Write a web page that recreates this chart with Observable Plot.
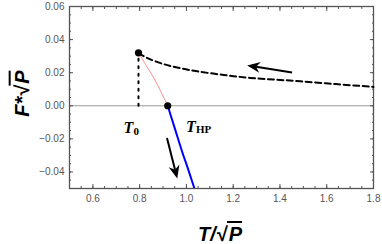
<!DOCTYPE html>
<html>
<head>
<meta charset="utf-8">
<script src="https://cdn.jsdelivr.net/npm/d3@7"></script>
<script src="https://cdn.jsdelivr.net/npm/@observablehq/plot@0.6"></script>
<style>
  body { margin: 0; background: #fff; }
  #wrap { position: relative; width: 382px; height: 244px; }
  .lab { position: absolute; font-family: "Liberation Sans", Arial, sans-serif; font-weight: bold; font-style: italic; font-size: 20px; color: #000; white-space: nowrap; line-height: 1; }
  .ov { border-top: 2px solid #000; padding-left: 2px; display: inline-block; line-height: 1; padding-top: 1px; }
</style>
</head>
<body>
<div id="wrap"></div>
<script>
// Tick values
const xTicks = [0.6, 0.8, 1.0, 1.2, 1.4, 1.6, 1.8];
const yTicks = [-0.04, -0.02, 0.0, 0.02, 0.04, 0.06];
const xMinor = d3.range(0.5, 1.8001, 0.05).map(v => +v.toFixed(3));
const yMinor = d3.range(-0.05, 0.06001, 0.005).map(v => +v.toFixed(4));

// Dashed branch (upper, black dashed)
const dashX = [0.795, 0.834, 0.902, 0.97, 1.047, 1.16, 1.274, 1.38, 1.488, 1.64, 1.8];
const dashY = [0.0318, 0.0288, 0.0252, 0.0228, 0.0208, 0.0186, 0.0168, 0.0158, 0.0148, 0.0131, 0.0114];
// Pink branch
const pinkX = [0.795, 0.825, 0.86, 0.889, 0.92];
const pinkY = [0.032, 0.025, 0.017, 0.009, 0.0];
// Blue branch
const blueX = [0.92, 0.95, 0.98, 1.01, 1.04];
const blueY = [0.0, -0.0135, -0.027, -0.0395, -0.0525];
// Dotted vertical at T0
const dotX = [0.795, 0.795];
const dotY = [0.0, 0.032];
// Special points
const ptX = [0.795, 0.92];
const ptY = [0.032, 0.0];
// Arrows (tail -> tip)
const arrX1 = [1.454, 0.919];
const arrY1 = [0.0198, -0.0198];
const arrX2 = [1.262, 0.963];
const arrY2 = [0.0241, -0.0442];
// Labels
const labX = [0.731, 0.998];
const labY = [-0.0135, -0.0125];
const labSub = ["0", "HP"];

const toXY = (xs, ys) => xs.map((x, i) => ({x, y: ys[i]}));
const dash = toXY(dashX, dashY), pink = toXY(pinkX, pinkY), blue = toXY(blueX, blueY);
const dotted = toXY(dotX, dotY), pts = toXY(ptX, ptY);
const arrows = arrX1.map((x, i) => ({x1: x, y1: arrY1[i], x2: arrX2[i], y2: arrY2[i]}));
const labs = labX.map((x, i) => ({x, y: labY[i], sub: labSub[i]}));

const tickColor = "#555";
const fmtY = d => (d < 0 ? "\u2212" : "") + Math.abs(d).toFixed(2);

// Filled-head arrows drawn through Plot's scales
function filledArrows(data) {
  return (index, scales) => {
    const g = d3.create("svg:g");
    for (const a of data) {
      const x1 = scales.x(a.x1), y1 = scales.y(a.y1), x2 = scales.x(a.x2), y2 = scales.y(a.y2);
      const ang = Math.atan2(y2 - y1, x2 - x1);
      const L = 13, W = 5.5, N = 9;
      const ux = Math.cos(ang), uy = Math.sin(ang), px = -uy, py = ux;
      const bx = x2 - ux * L, by = y2 - uy * L;
      const nx = x2 - ux * N, ny = y2 - uy * N;
      g.append("line").attr("x1", x1).attr("y1", y1).attr("x2", nx).attr("y2", ny)
        .attr("stroke", "#000").attr("stroke-width", 2);
      g.append("path")
        .attr("d", `M${x2},${y2}L${bx + px * W},${by + py * W}L${nx},${ny}L${bx - px * W},${by - py * W}Z`)
        .attr("fill", "#000");
    }
    return g.node();
  };
}

const chart = Plot.plot({
  width: 382, height: 244,
  marginLeft: 69, marginRight: 9, marginTop: 6, marginBottom: 56,
  x: {domain: [0.5, 1.8]},
  y: {domain: [-0.05, 0.06]},
  style: {fontFamily: "Liberation Sans, Arial, sans-serif", fontSize: "10px", background: "#fff"},
  marks: [
    Plot.ruleY([0], {stroke: "#999", strokeWidth: 1}),
    // ticks: minor
    Plot.axisX(xMinor, {anchor: "bottom", tickSize: -2, text: null, stroke: tickColor, label: null}),
    Plot.axisX(xMinor, {anchor: "top", tickSize: -2, text: null, stroke: tickColor, label: null}),
    Plot.axisY(yMinor, {anchor: "left", tickSize: -2, text: null, stroke: tickColor, label: null}),
    Plot.axisY(yMinor, {anchor: "right", tickSize: -2, text: null, stroke: tickColor, label: null}),
    // ticks: major
    Plot.axisX(xTicks, {anchor: "bottom", tickSize: -4, text: null, stroke: tickColor, label: null}),
    Plot.axisX(xTicks, {anchor: "top", tickSize: -4, text: null, stroke: tickColor, label: null}),
    Plot.axisY(yTicks, {anchor: "left", tickSize: -4, text: null, stroke: tickColor, label: null}),
    Plot.axisY(yTicks, {anchor: "right", tickSize: -4, text: null, stroke: tickColor, label: null}),
    // tick labels
    Plot.axisX(xTicks, {anchor: "bottom", tickSize: 0, tickPadding: 6, tickFormat: d => d.toFixed(1), fill: tickColor, label: null, fontSize: 10}),
    Plot.axisY(yTicks, {anchor: "left", tickSize: 0, tickPadding: 5, tickFormat: fmtY, fill: tickColor, label: null, fontSize: 10}),
    Plot.frame({stroke: "#555", strokeWidth: 1.3}),
    Plot.line(dotted, {x: "x", y: "y", stroke: "#000", strokeWidth: 2, strokeDasharray: "2,5.5"}),
    Plot.line(pink, {x: "x", y: "y", stroke: "#ff8c8c", strokeWidth: 1, curve: "catmull-rom"}),
    Plot.line(dash, {x: "x", y: "y", stroke: "#000", strokeWidth: 2, strokeDasharray: "6,3.5", curve: "catmull-rom"}),
    Plot.line(blue, {x: "x", y: "y", stroke: "#0000ff", strokeWidth: 2, curve: "catmull-rom", clip: true}),
    Plot.dot(pts, {x: "x", y: "y", r: 3.6, fill: "#000", stroke: "none"}),
    filledArrows(arrows),
    Plot.text(labs, {x: "x", y: "y", text: () => "T", textAnchor: "start", fontFamily: "Liberation Serif, Times New Roman, serif", fontWeight: "bold", fontStyle: "italic", fontSize: 16, fill: "#000"}),
    Plot.text(labs, {x: "x", y: "y", text: "sub", dx: 10, dy: 3, textAnchor: "start", fontFamily: "Liberation Serif, Times New Roman, serif", fontWeight: "bold", fontSize: 11, fill: "#000"})
  ]
});

const wrap = document.getElementById("wrap");
wrap.appendChild(chart);

// Axis labels (HTML overlay so the square-root bar can be drawn)
const xl = document.createElement("div");
xl.className = "lab";
xl.innerHTML = 'T/\u221A<span class="ov">P</span>';
wrap.appendChild(xl);
xl.style.left = (220 - xl.offsetWidth / 2) + "px";
xl.style.top = (232 - xl.offsetHeight / 2) + "px";

const yl = document.createElement("div");
yl.className = "lab";
yl.innerHTML = 'F*\u221A<span class="ov">P</span>';
wrap.appendChild(yl);
const w = yl.offsetWidth, h = yl.offsetHeight;
yl.style.left = (20 - w / 2) + "px";
yl.style.top = (93 - h / 2) + "px";
yl.style.transform = "rotate(-90deg)";
</script>
</body>
</html>
